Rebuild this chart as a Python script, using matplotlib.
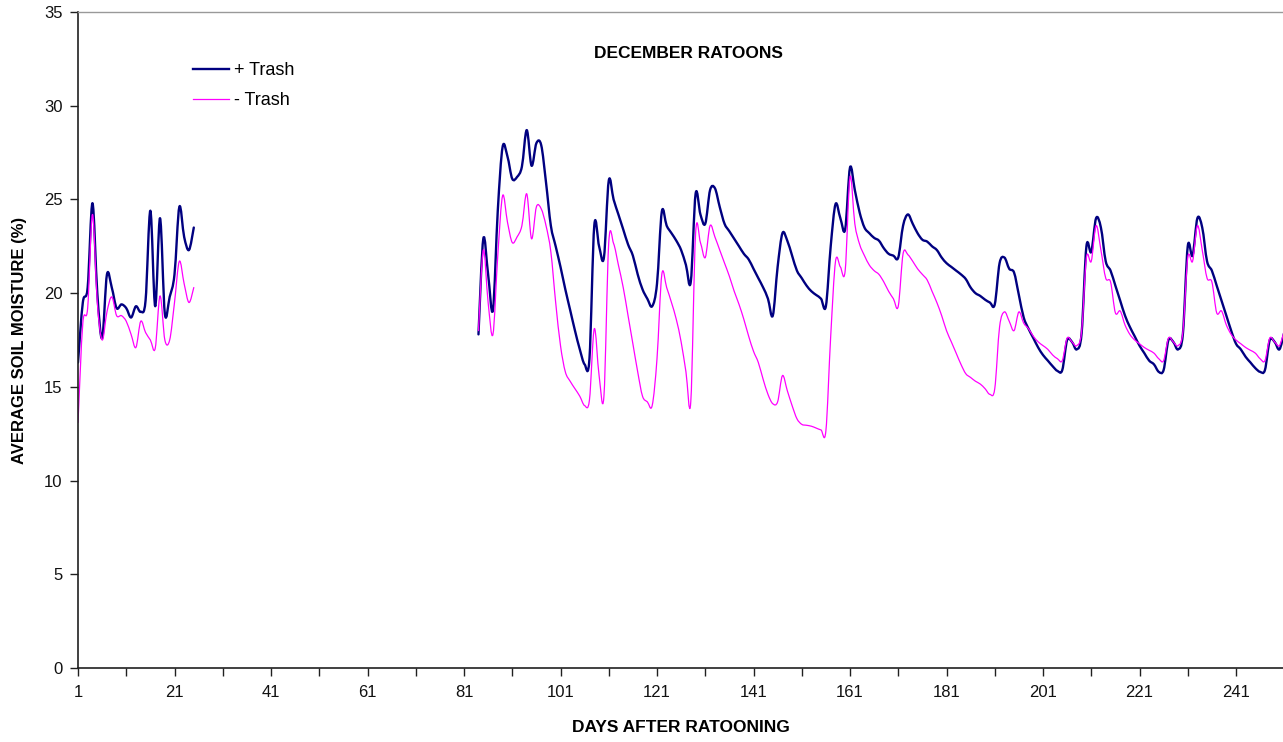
import numpy as np
import matplotlib
matplotlib.use("Agg")
import matplotlib.pyplot as plt
from matplotlib.path import Path
from matplotlib.patches import PathPatch
from matplotlib.lines import Line2D

plt.rcParams['font.family'] = ['Liberation Sans', 'DejaVu Sans']

# Early readings, days 1-25
days_early = np.arange(1, 26)
plus_early = [16.3, 19.5, 20.3, 24.8, 20.0, 17.6, 21.0, 20.3, 19.2, 19.4,
              19.2, 18.7, 19.3, 19.0, 19.6, 24.4, 19.3, 24.0, 18.9, 19.8,
              21.0, 24.6, 23.0, 22.3, 23.5]
minus_early = [13.1, 18.4, 19.2, 24.2, 19.5, 17.5, 19.0, 19.8, 18.8, 18.8,
               18.5, 17.8, 17.1, 18.5, 17.9, 17.5, 17.05, 19.85, 17.5, 17.5,
               19.5, 21.7, 20.5, 19.5, 20.3]

# Later readings, days 84-251
days_late = np.arange(84, 252)
plus_late = [17.8, 22.9, 21.0, 19.1, 24.4, 27.8,
             27.3, 26.1, 26.2, 26.75, 28.7, 26.8, 28.0, 27.9, 25.9, 23.6,
             22.5, 21.4, 20.2, 19.1, 18.0, 17.0, 16.2, 16.5, 23.6, 22.5,
             21.9, 26.0, 25.0, 24.2, 23.4, 22.6, 22.0, 21.0, 20.2, 19.7,
             19.3, 20.5, 24.35, 23.6, 23.2, 22.8, 22.3, 21.5, 20.6, 25.3,
             24.2, 23.7, 25.5, 25.6, 24.6, 23.7, 23.3, 22.9, 22.5, 22.1,
             21.8, 21.3, 20.8, 20.3, 19.7, 18.8, 21.4, 23.2, 22.8, 22.0,
             21.2, 20.8, 20.4, 20.1, 19.9, 19.7, 19.3, 22.5, 24.75, 24.0,
             23.4, 26.7, 25.5, 24.3, 23.5, 23.2, 22.95, 22.8, 22.4, 22.1,
             22.0, 21.9, 23.6, 24.2, 23.7, 23.2, 22.85, 22.75, 22.5, 22.3,
             21.9, 21.6, 21.4, 21.2, 21.0, 20.75, 20.3, 20.0, 19.85, 19.65,
             19.5, 19.4, 21.6, 21.9, 21.3, 21.1, 19.9, 18.7, 18.1, 17.6,
             17.1, 16.7, 16.4, 16.1, 15.85, 15.9, 17.5, 17.4, 17.0, 17.85,
             22.5, 22.2, 24.0, 23.5, 21.7, 21.2, 20.4, 19.6, 18.8, 18.2,
             17.7, 17.2, 16.8, 16.4, 16.2, 15.8, 15.9, 17.5, 17.4, 17.0,
             17.85, 22.5, 22.0, 24.0, 23.5, 21.7, 21.2, 20.4, 19.6, 18.8,
             18.0, 17.3, 17.0, 16.6, 16.3, 16.0, 15.8, 15.9, 17.5, 17.4,
             17.0, 17.9]
minus_late = [18.0, 22.3, 19.5, 17.8, 22.0, 25.2,
              23.8, 22.7, 23.0, 23.6, 25.3, 22.9, 24.6, 24.5, 23.6, 22.2,
              19.5, 17.2, 15.8, 15.3, 14.9, 14.5, 14.0, 14.3, 18.1, 15.6,
              14.5, 22.7, 22.65, 21.5, 20.3, 18.8, 17.3, 15.8, 14.5, 14.2,
              14.0, 16.5, 21.0, 20.3, 19.5, 18.6, 17.4, 15.8, 14.2, 23.2,
              22.7, 21.9, 23.6, 23.0, 22.3, 21.6, 20.9, 20.1, 19.4, 18.6,
              17.7, 16.9, 16.3, 15.4, 14.6, 14.1, 14.2, 15.6, 14.8, 14.0,
              13.3, 13.0, 12.95, 12.9, 12.8, 12.7, 12.65, 17.7, 21.7, 21.4,
              21.2, 26.2, 23.7, 22.6, 22.0, 21.5, 21.2, 21.0, 20.6, 20.1,
              19.7, 19.3, 22.1, 22.05, 21.7, 21.3, 21.0, 20.7, 20.1, 19.5,
              18.8, 18.0, 17.4, 16.8, 16.2, 15.7, 15.5, 15.3, 15.15, 14.9,
              14.6, 14.9, 18.2, 19.0, 18.5, 18.0, 19.0, 18.4, 18.1, 17.7,
              17.4, 17.2, 17.0, 16.7, 16.5, 16.4, 17.6, 17.4, 17.2, 17.95,
              21.9, 21.7, 23.6, 22.3, 20.8, 20.6, 18.95, 19.05, 18.3, 17.8,
              17.5, 17.3, 17.1, 16.95, 16.8, 16.5, 16.4, 17.6, 17.4, 17.2,
              17.95, 21.9, 21.7, 23.6, 22.3, 20.8, 20.6, 18.95, 19.05, 18.3,
              17.8, 17.5, 17.3, 17.1, 16.95, 16.8, 16.5, 16.4, 17.6, 17.4,
              17.2, 18.0]

x_ticks = np.arange(1, 251, 10)
x_labels = [str(t) if (t - 1) % 20 == 0 else '' for t in x_ticks]
y_ticks = np.arange(0, 36, 5)

navy = '#000080'
magenta = '#FF00FF'


def smooth_line(ax, x, y, **kw):
    # spreadsheet-style smoothed line: cubic bezier through every reading
    pts = np.column_stack([x, y]).astype(float)
    n = len(pts)
    verts = [pts[0]]
    codes = [Path.MOVETO]
    for i in range(n - 1):
        p0 = pts[max(i - 1, 0)]
        p1 = pts[i]
        p2 = pts[i + 1]
        p3 = pts[min(i + 2, n - 1)]
        verts += [p1 + (p2 - p0) / 6, p2 - (p3 - p1) / 6, p2]
        codes += [Path.CURVE4] * 3
    patch = PathPatch(Path(verts, codes), fill=False, capstyle='round',
                      joinstyle='round', **kw)
    ax.add_patch(patch)


fig = plt.figure(figsize=(12.83, 7.42), dpi=100)
ax = fig.add_axes([78 / 1283, 74 / 742, 1205 / 1283, 656 / 742])

smooth_line(ax, days_early, plus_early, edgecolor=navy, lw=1.7)
smooth_line(ax, days_late, plus_late, edgecolor=navy, lw=1.7)
smooth_line(ax, days_early, minus_early, edgecolor=magenta, lw=0.9)
smooth_line(ax, days_late, minus_late, edgecolor=magenta, lw=0.9)

ax.set_xlim(1, 1 + 1205 / 4.825)
ax.set_ylim(0, 35)
ax.set_xticks(x_ticks)
ax.set_xticklabels(x_labels)
ax.set_yticks(y_ticks)
ax.tick_params(axis='both', direction='out', length=6, width=1,
               labelsize=12, color='#202020', labelcolor='#111111')
ax.tick_params(axis='x', pad=6)
ax.tick_params(axis='y', pad=5)

for side in ('left', 'bottom'):
    ax.spines[side].set_color('#202020')
    ax.spines[side].set_linewidth(1.2)
ax.spines['top'].set_color('#999999')
ax.spines['top'].set_linewidth(1)
ax.spines['right'].set_visible(False)

ax.set_xlabel('DAYS AFTER RATOONING', fontsize=12.5, fontweight='bold',
              labelpad=15)
ax.set_ylabel('AVERAGE SOIL MOISTURE (%)', fontsize=12, fontweight='bold',
              labelpad=12)

fig.text(688 / 1283, 1 - 53 / 742, 'DECEMBER RATOONS', fontsize=12.5,
         fontweight='bold', ha='center', va='center')

handles = [Line2D([], [], color=navy, lw=1.7),
           Line2D([], [], color=magenta, lw=0.9)]
ax.legend(handles, ['+ Trash', '- Trash'], loc='upper left',
          bbox_to_anchor=(193 / 1283, 1 - 62 / 742),
          bbox_transform=fig.transFigure, frameon=False, fontsize=13,
          handlelength=2.0, handletextpad=0.25, labelspacing=0.72,
          borderpad=0, borderaxespad=0)

fig.savefig('out.png', dpi=100)
